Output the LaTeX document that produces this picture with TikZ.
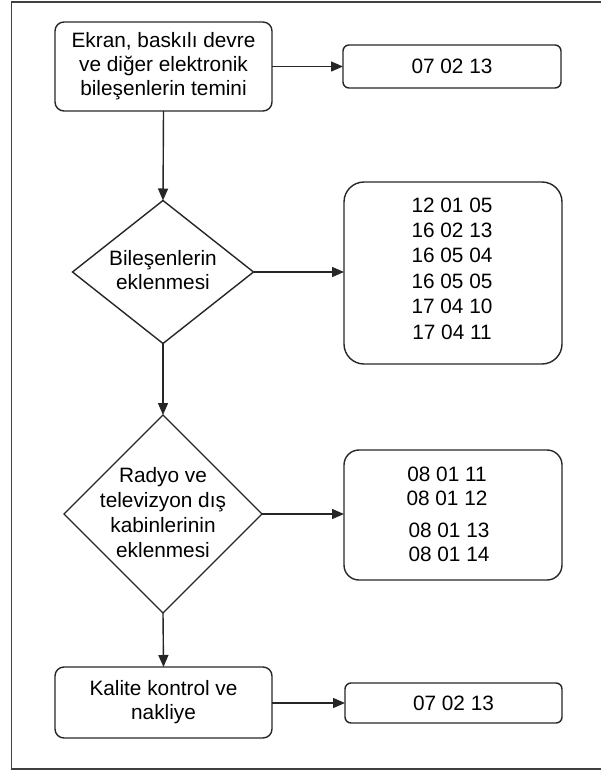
\documentclass[tikz,border=0pt]{standalone}
\usepackage{fontspec}
\setmainfont{Liberation Sans}
\usetikzlibrary{shapes.geometric,arrows.meta}
\begin{document}
\begin{tikzpicture}[x=1pt,y=-1pt,
  every node/.style={font=\fontsize{20.8}{24}\selectfont, align=center, inner sep=0pt, outer sep=0pt},
  procbox/.style={draw=black!85, line width=1.4pt, rounded corners=9pt},
  codebox/.style={draw=black!85, line width=1.4pt, rounded corners=6pt},
  bigbox/.style={draw=black!85, line width=1.4pt, rounded corners=20pt},
  conn/.style={draw=black!85, line width=1.4pt, -{Triangle[length=12pt,width=10pt]}}]
\useasboundingbox (0,0) rectangle (600,771);
\draw[black!75, line width=1.2pt] (620,2) -- (11.5,2) -- (11.5,769) -- (620,769);
% nodes
\node[procbox, minimum width=217pt, minimum height=89pt] (b1) at (163.5,66.5) {Ekran, baskılı devre\\ve diğer elektronik\\bileşenlerin temini};
\node[codebox, minimum width=218pt, minimum height=43pt] (c1) at (452,66.5) {07 02 13};
\node[draw=none, minimum width=181pt, minimum height=143pt] (d1) at (163,272) {};
\draw[black!85, line width=1.4pt] (d1.north) -- (d1.east) -- (d1.south) -- (d1.west) -- cycle;
\node at (163,270) {Bileşenlerin\\eklenmesi};
\node[bigbox, minimum width=218pt, minimum height=182pt] (c2) at (453,273) {};
\node[font=\fontsize{20.8}{25.4}\selectfont] at (452,268.5) {12 01 05\\16 02 13\\16 05 04\\16 05 05\\17 04 10\\17 04 11};
\node[draw=none, minimum width=198pt, minimum height=198pt] (d2) at (163,514) {};
\draw[black!85, line width=1.4pt] (d2.north) -- (d2.east) -- (d2.south) -- (d2.west) -- cycle;
\node[font=\fontsize{20.8}{25}\selectfont] at (163,512.5) {Radyo ve\\televizyon dış\\kabinlerinin\\eklenmesi};
\node[bigbox, rounded corners=15pt, minimum width=218pt, minimum height=130pt] (c3) at (453,515) {};
\node[font=\fontsize{20.8}{24}\selectfont] at (447,486) {08 01 11\\08 01 12};
\node[font=\fontsize{20.8}{24}\selectfont] at (449,542) {08 01 13\\08 01 14};
\node[procbox, minimum width=217pt, minimum height=71pt] (b4) at (163.5,702.5) {Kalite kontrol ve\\nakliye};
\node[codebox, minimum width=217pt, minimum height=40pt] (c4) at (453.5,703) {07 02 13};
% connectors
\draw[conn] (b1.east) -- (c1.west);
\draw[conn] (b1.south) -- (d1.north);
\draw[conn] (d1.east) -- (c2.west |- d1.east);
\draw[conn] (d1.south) -- (d2.north);
\draw[conn] (d2.east) -- (c3.west |- d2.east);
\draw[conn] (d2.south) -- (b4.north);
\draw[conn] (b4.east |- c4.west) -- (c4.west);
\end{tikzpicture}
\end{document}
